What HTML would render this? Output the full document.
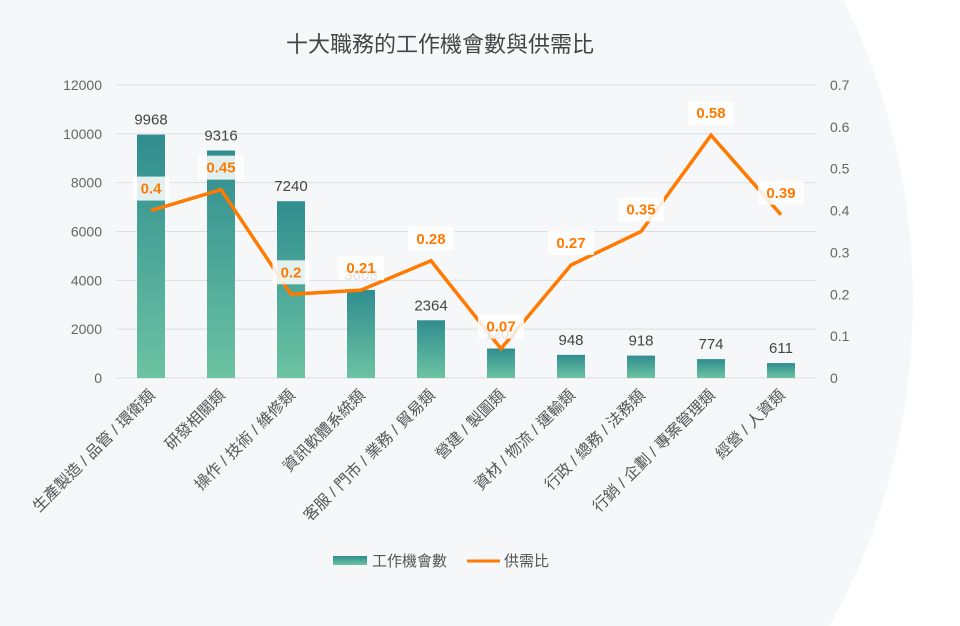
<!DOCTYPE html>
<html><head><meta charset="utf-8"><style>
html,body{margin:0;padding:0;background:#fff;width:960px;height:626px;overflow:hidden;}
svg{display:block;font-family:"Liberation Sans","Noto Sans CJK TC",sans-serif;}
</style></head><body>
<svg id="chart" width="960" height="626" viewBox="0 0 960 626">
<defs>
<linearGradient id="barGrad" x1="0" y1="0" x2="0" y2="1">
<stop offset="0" stop-color="#2f8d8f"/><stop offset="1" stop-color="#6cc3a2"/>
</linearGradient>
</defs>
<ellipse cx="400" cy="300" rx="513" ry="595" fill="#f6f7f9"/>
<text x="440" y="52" text-anchor="middle" font-size="22" fill="#444">十大職務的工作機會數與供需比</text>
<g id="grid"></g><g id="bars"></g><g id="line"></g><g id="labels"></g>
<g>
<rect x="333" y="556" width="34" height="9" fill="url(#barGrad)"/>
<text x="372" y="566" font-size="15" fill="#555">工作機會數</text>
<line x1="467" y1="561" x2="500" y2="561" stroke="#ff7a00" stroke-width="3"/>
<text x="504" y="566" font-size="15" fill="#555">供需比</text>
</g>
</svg>
<script>
const categories=["生產製造 / 品管 / 環衛類","研發相關類","操作 / 技術 / 維修類","資訊軟體系統類","客服 / 門市 / 業務 / 貿易類","營建 / 製圖類","資材 / 物流 / 運輸類","行政 / 總務 / 法務類","行銷 / 企劃 / 專案管理類","經營 / 人資類"];
const jobs=[9968,9316,7240,3608,2364,1207,948,918,774,611];
const ratio=[0.4,0.45,0.2,0.21,0.28,0.07,0.27,0.35,0.58,0.39];
const leftTicks=[0,2000,4000,6000,8000,10000,12000];
const rightTicks=[0,0.1,0.2,0.3,0.4,0.5,0.6,0.7];
const NS="http://www.w3.org/2000/svg";
const x0=116,x1=816,y0=378,yTop=85;
const band=(x1-x0)/categories.length;
const xc=i=>x0+band*(i+0.5);
const yL=v=>y0-(v/12000)*(y0-yTop);
const yR=v=>y0-(v/0.7)*(y0-yTop);
function mk(tag,attrs,parent,text){const e=document.createElementNS(NS,tag);for(const k in attrs)e.setAttribute(k,attrs[k]);if(text!==undefined)e.textContent=text;document.getElementById(parent).appendChild(e);return e;}
leftTicks.forEach(t=>{
 const l=mk("line",{x1:x0,x2:x1,y1:yL(t),y2:yL(t),stroke:"#dcdde0","stroke-width":1},"grid");
 
 
 const tx=mk("text",{x:102,y:yL(t)+5,"text-anchor":"end","font-size":14,fill:"#666"},"grid",String(t));
 
 
});
rightTicks.forEach(t=>{
 const tx=mk("text",{x:830,y:yR(t)+5,"font-size":14,fill:"#666"},"grid",String(t));
 
 
});
categories.forEach((c,i)=>{
 const v=jobs[i];
 const r=mk("rect",{x:xc(i)-14,y:yL(v),width:28,height:y0-yL(v),fill:"url(#barGrad)"},"bars");
 
 
 const vt=mk("text",{x:xc(i),y:yL(v)-10,"text-anchor":"middle","font-size":15,fill:"#444"},"labels",String(v));
 
 
 const cx=xc(i)+5,cy=y0+18;
 const ct=mk("text",{x:cx,y:cy,"text-anchor":"end","font-size":15.5,fill:"#555",transform:`rotate(-45 ${cx} ${cy})`},"labels",c);
 
 
});
const pts=ratio.map((v,i)=>xc(i)+","+yR(v)).join(" ");
const pl=mk("polyline",{points:pts,fill:"none",stroke:"#ff7a00","stroke-width":3.5,"stroke-linejoin":"miter"},"line");


ratio.forEach((v,i)=>{
 const s=String(v),w=s.length*9+10,ly=yR(v)-22;
 const b=mk("rect",{x:xc(i)-w/2,y:ly-12,width:w,height:24,fill:"#fff","fill-opacity":0.85},"labels");
 
 
 const t=mk("text",{x:xc(i),y:ly+5,"text-anchor":"middle","font-size":15,"font-weight":"bold",fill:"#ff7a00"},"labels",s);
 
 
});
</script>
</body></html>
